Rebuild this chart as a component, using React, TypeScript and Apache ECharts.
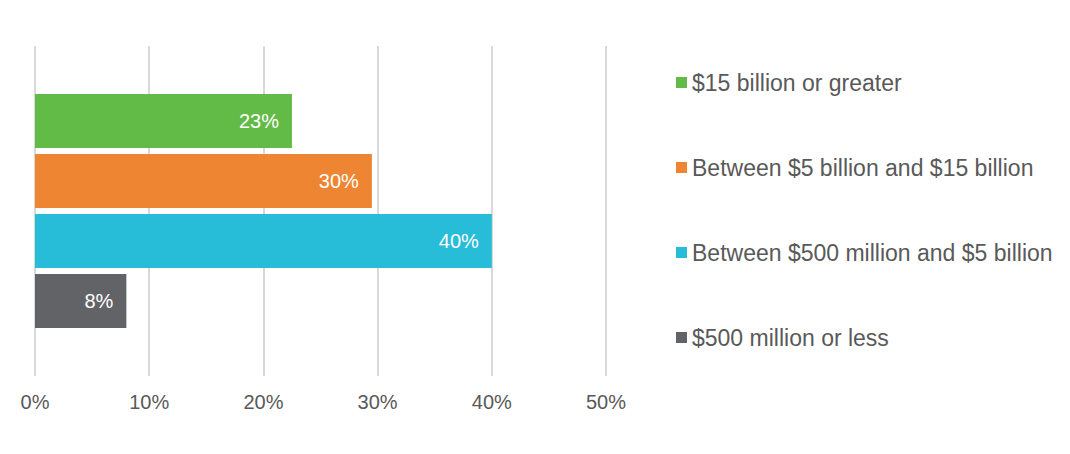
import React, { useEffect, useRef } from "react";
import * as echarts from "echarts";

const categories = ["Revenue"];
const seriesNames = [
  "$15 billion or greater",
  "Between $5 billion and $15 billion",
  "Between $500 million and $5 billion",
  "$500 million or less",
];
const seriesValues = [22.5, 29.5, 40, 8];
const seriesColors = ["#62bb46", "#ee8533", "#27bcd8", "#626366"];
const xTicks = [0, 10, 20, 30, 40, 50];

const FONT = "'Liberation Sans', Arial, Helvetica, sans-serif";

export default function App() {
  const ref = useRef<HTMLDivElement>(null);
  useEffect(() => {
    const chart = echarts.init(ref.current!, null, { renderer: "svg" });
    chart.setOption({
      animation: false,
      textStyle: { fontFamily: FONT },
      grid: { left: 35, right: 464, top: 46, bottom: 78, containLabel: false },
      xAxis: {
        type: "value",
        min: xTicks[0],
        max: xTicks[xTicks.length - 1],
        interval: 10,
        axisLine: { show: false },
        axisTick: { show: false },
        axisLabel: {
          formatter: (v: number) => v + "%",
          color: "#595959",
          fontSize: 20,
          margin: 16,
          fontFamily: FONT,
        },
        splitLine: { show: true, lineStyle: { color: "#d9d9d9", width: 2 } },
      },
      yAxis: {
        type: "category",
        data: categories,
        inverse: true,
        axisLine: { show: false },
        axisTick: { show: false },
        axisLabel: { show: false },
      },
      legend: {
        orient: "vertical",
        left: 676,
        top: 71,
        padding: 0,
        itemWidth: 11,
        itemHeight: 11,
        itemGap: 62,
        icon: "rect",
        textStyle: {
          fontSize: 23,
          lineHeight: 23,
          color: "#595959",
          fontFamily: FONT,
        },
        data: seriesNames,
      },
      series: seriesNames.map((name, i) => ({
        name,
        type: "bar",
        data: [seriesValues[i]],
        barWidth: 54,
        barGap: "11%",
        itemStyle: { color: seriesColors[i] },
        label: {
          show: true,
          position: "insideRight",
          distance: 13,
          color: "#ffffff",
          fontSize: 20,
          fontWeight: "normal",
          fontFamily: FONT,
          formatter: (p: any) => Math.round(p.value) + "%",
        },
      })),
    });
    return () => chart.dispose();
  }, []);
  return <div ref={ref} style={{ width: 1070, height: 454, margin: -8 }} />;
}
